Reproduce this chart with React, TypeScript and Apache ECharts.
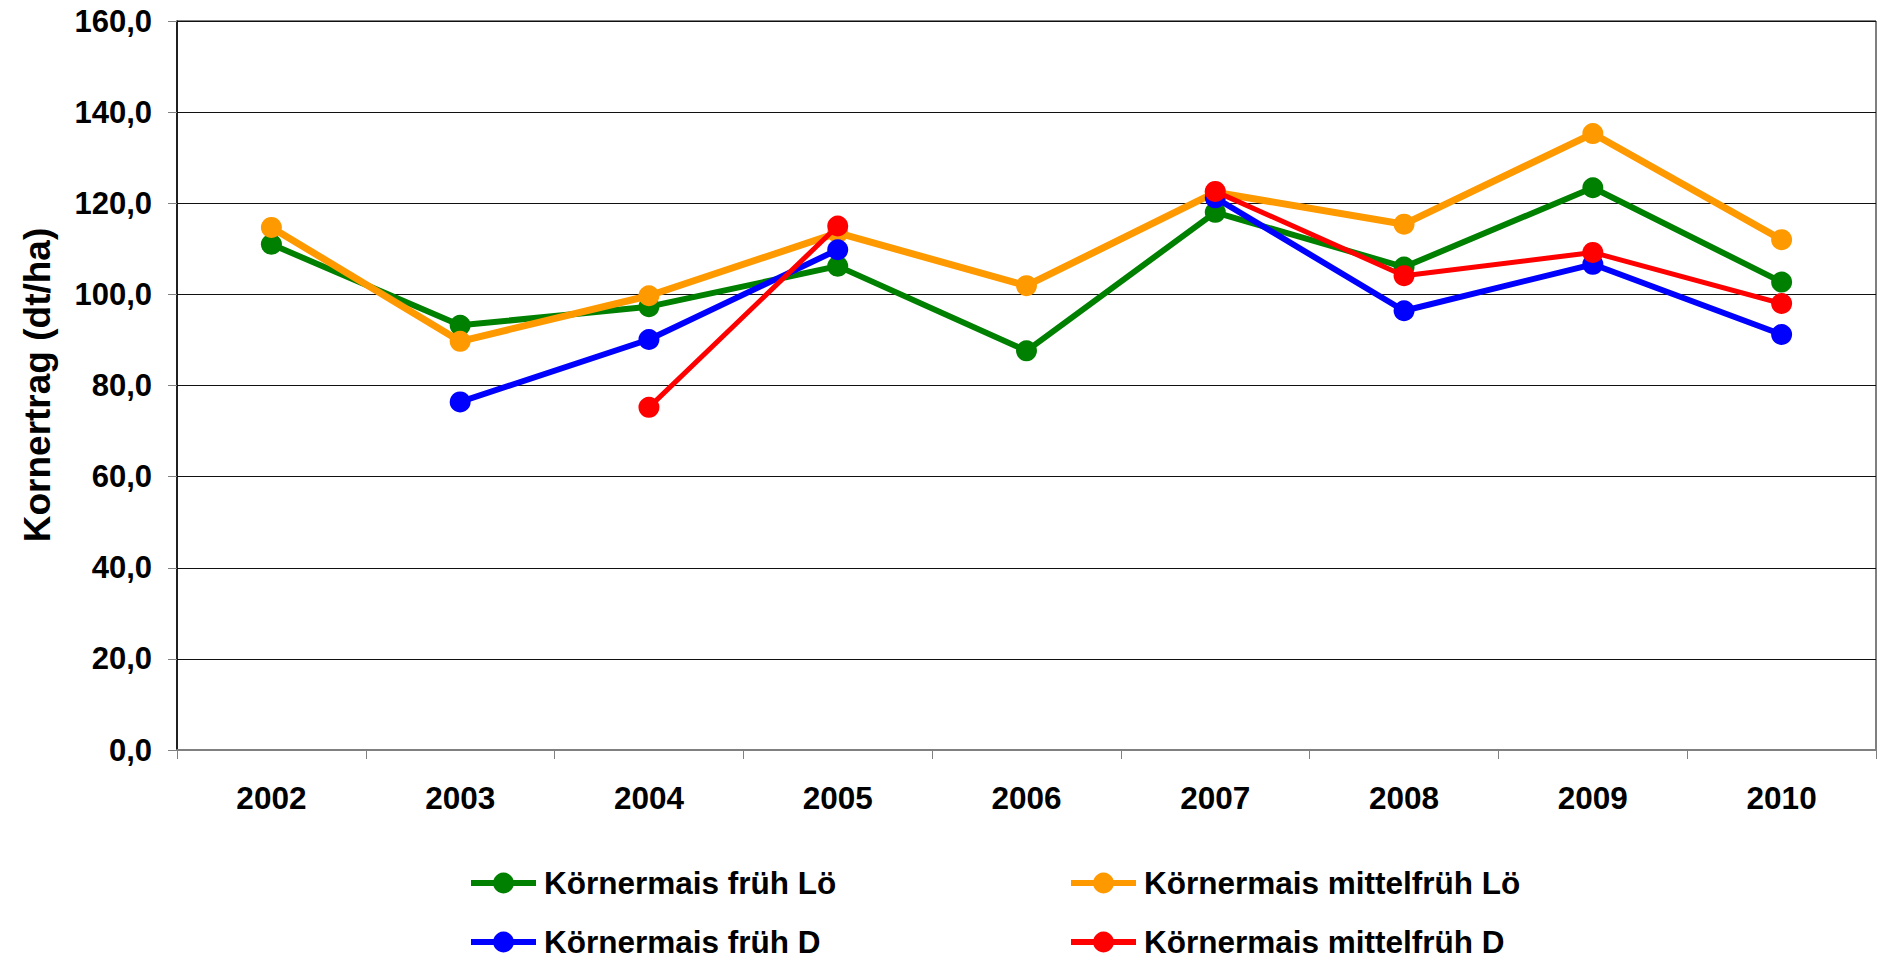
import React, { useEffect, useRef } from "react";
import * as echarts from "echarts";

const years = ["2002", "2003", "2004", "2005", "2006", "2007", "2008", "2009", "2010"];
const fruehLo = [111.0, 93.2, 97.3, 106.2, 87.6, 118.0, 106.0, 123.4, 102.7];
const mittelfruehLo = [114.7, 89.7, 99.7, 113.5, 101.9, 122.4, 115.4, 135.3, 112.0];
const fruehD = [null, 76.4, 90.1, 109.8, null, 121.2, 96.4, 106.6, 91.2];
const mittelfruehD = [null, null, 75.2, 115.0, null, 122.6, 104.1, 109.2, 98.0];

const names = [
  "Körnermais früh Lö",
  "Körnermais mittelfrüh Lö",
  "Körnermais früh D",
  "Körnermais mittelfrüh D",
];
const colors = ["#008000", "#FF9900", "#0000FF", "#FF0000"];
const yTitle = "Kornertrag (dt/ha)";

const FONT = "'Liberation Sans', Arial, sans-serif";

export default function App() {
  const ref = useRef<HTMLDivElement>(null);
  useEffect(() => {
    if (!ref.current) return;
    const chart = echarts.init(ref.current, undefined, { renderer: "svg" });
    const datasets = [fruehLo, mittelfruehLo, fruehD, mittelfruehD];
    const widths = [6, 7, 6, 5];
    const legendText = {
      color: "#000",
      fontFamily: FONT,
      fontWeight: "bold" as const,
      fontSize: 31.5,
      padding: [0, 0, 0, 3],
    };
    // legend slots: [left, top] for each series in names order
    const legendPos = [
      [463, 862],
      [1063, 862],
      [463, 921],
      [1063, 921],
    ];
    chart.setOption({
      animation: false,
      backgroundColor: "#fff",
      grid: {
        left: 177,
        right: 3,
        top: 21,
        bottom: 212,
        show: true,
        borderColor: "#000",
        borderWidth: 1,
        backgroundColor: "transparent",
        containLabel: false,
      },
      legend: names.map((n, i) => ({
        data: [n],
        left: legendPos[i][0],
        top: legendPos[i][1],
        itemWidth: 65,
        itemHeight: 26,
        lineStyle: { width: 6 },
        textStyle: legendText,
      })),
      xAxis: {
        type: "category",
        data: years,
        boundaryGap: true,
        axisLine: { lineStyle: { color: "#808080", width: 2 } },
        axisTick: { show: true, length: 9, lineStyle: { color: "#808080", width: 1 } },
        axisLabel: {
          color: "#000",
          fontFamily: FONT,
          fontWeight: "bold",
          fontSize: 31.5,
          margin: 32,
        },
        splitLine: { show: false },
      },
      yAxis: {
        type: "value",
        min: 0,
        max: 160,
        interval: 20,
        axisLine: { show: true, lineStyle: { color: "#000", width: 1.5 } },
        axisTick: { show: true, length: 9, lineStyle: { color: "#808080", width: 1 } },
        axisLabel: {
          color: "#000",
          fontFamily: FONT,
          fontWeight: "bold",
          fontSize: 31,
          margin: 25,
          formatter: (v: number) => v.toFixed(1).replace(".", ","),
        },
        splitLine: { show: true, lineStyle: { color: "#111", width: 1 } },
      },
      graphic: [
        {
          type: "text",
          x: 37,
          y: 385,
          rotation: Math.PI / 2,
          style: {
            text: yTitle,
            fill: "#000",
            font: `bold 37px ${FONT}`,
            textAlign: "center",
            textVerticalAlign: "middle",
          },
        },
      ],
      series: datasets.map((d, i) => ({
        name: names[i],
        type: "line",
        data: d,
        connectNulls: false,
        symbol: "circle",
        symbolSize: 21,
        showSymbol: true,
        lineStyle: { color: colors[i], width: widths[i] },
        itemStyle: { color: colors[i] },
        z: 2 + i,
      })),
    });
    return () => chart.dispose();
  }, []);
  return (
    <div
      ref={ref}
      style={{ position: "fixed", left: 0, top: 0, width: "1879px", height: "962px" }}
    />
  );
}
